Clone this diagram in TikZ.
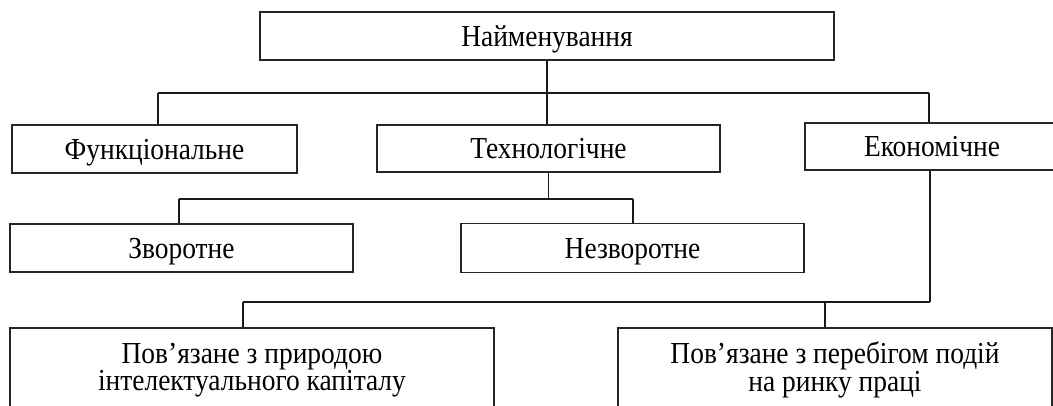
\documentclass[tikz,border=0pt]{standalone}
\usepackage{fontspec}
\setmainfont[FakeStretch=0.9]{Liberation Serif}
\begin{document}
\begin{tikzpicture}[x=1pt,y=-1pt,
  box/.style={draw=black!85,line width=1.5pt,inner sep=0pt,align=center,
    font=\fontsize{30.5}{25}\selectfont},
  one/.style={box,text height=21pt,text depth=1pt},
  conn/.style={draw=black!90,line width=1.1pt}]
\useasboundingbox (0,0) rectangle (1053,405);
\node[one,minimum width=574pt,minimum height=48pt] (top) at (547,36) {Найменування};
\node[one,minimum width=285pt,minimum height=48pt] (funct) at (154.5,149) {Функціональне};
\node[one,minimum width=343pt,minimum height=47pt] (tech) at (548.5,148.5) {Технологічне};
\node[one,minimum width=254pt,minimum height=47pt] (econ) at (932,146.5) {Економічне};
\node[one,minimum width=343pt,minimum height=48pt] (zvor) at (181.5,248) {Зворотне};
\node[one,minimum width=343pt,minimum height=49pt] (nezv) at (632.5,248) {Незворотне};
\node[box,minimum width=484pt,minimum height=84pt] (lb) at (252,370) {Пов’язане з природою\\інтелектуального капіталу};
\node[box,minimum width=434pt,minimum height=84pt] (rb) at (835,370) {Пов’язане з перебігом подій\\на ринку праці};
\coordinate (j1l) at (158,93);
\coordinate (j1r) at (929,93);
\draw[conn] (top.south) -- (top.south |- j1l);
\draw[conn] (j1l) -- (j1r);
\draw[conn] (j1l) -- (j1l |- funct.north);
\draw[conn] (top.south |- j1l) -- (top.south |- tech.north);
\draw[conn] (j1r) -- (j1r |- econ.north);
\coordinate (j2l) at (179,199);
\coordinate (j2r) at (633,199);
\draw[conn] (tech.south) -- (tech.south |- j2l);
\draw[conn] (j2l) -- (j2r);
\draw[conn] (j2l) -- (j2l |- zvor.north);
\draw[conn] (j2r) -- (j2r |- nezv.north);
\coordinate (j3l) at (243,302);
\coordinate (j3r) at (930,302);
\coordinate (j3m) at (825,302);
\draw[conn] (econ.south -| j3r) -- (j3r);
\draw[conn] (j3r) -- (j3l);
\draw[conn] (j3l) -- (j3l |- lb.north);
\draw[conn] (j3m) -- (j3m |- rb.north);
\end{tikzpicture}
\end{document}
